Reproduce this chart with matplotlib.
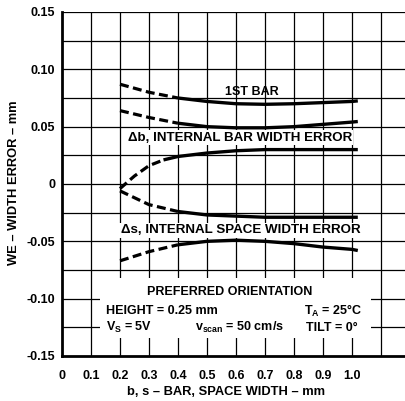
import numpy as np
import matplotlib.pyplot as plt
from matplotlib.patches import Rectangle

plt.rcParams['font.family'] = ['Liberation Sans', 'DejaVu Sans']

# data
x = [0.2, 0.3, 0.4, 0.5, 0.6, 0.7, 0.8, 0.9, 1.0, 1.02]
first_bar = [0.087, 0.080, 0.075, 0.072, 0.070, 0.0695, 0.070, 0.071, 0.072, 0.0725]
db_upper = [0.064, 0.058, 0.053, 0.050, 0.049, 0.049, 0.050, 0.052, 0.054, 0.0545]
x_db = [0.2, 0.25, 0.3, 0.35, 0.4, 0.5, 0.6, 0.7, 0.8, 0.9, 1.0, 1.02]
db_lower = [-0.004, 0.007, 0.016, 0.021, 0.024, 0.027, 0.029, 0.030, 0.030, 0.030, 0.030, 0.030]
ds_upper = [-0.006, -0.018, -0.024, -0.027, -0.028, -0.029, -0.029, -0.029, -0.029, -0.029]
ds_lower = [-0.067, -0.059, -0.053, -0.050, -0.049, -0.050, -0.052, -0.055, -0.057, -0.058]

xticks = [0, 0.1, 0.2, 0.3, 0.4, 0.5, 0.6, 0.7, 0.8, 0.9, 1.0]
xticklabels = ["0", "0.1", "0.2", "0.3", "0.4", "0.5", "0.6", "0.7", "0.8", "0.9", "1.0"]
yticks = [0.15, 0.10, 0.05, 0, -0.05, -0.10, -0.15]
yticklabels = ["0.15", "0.10", "0.05", "0", "-0.05", "-0.10", "-0.15"]

fig = plt.figure(figsize=(4.06, 4.01), dpi=100)
ax = fig.add_axes([62 / 406, 1 - 356 / 401, 1 - 62 / 406, 344 / 401])
ax.set_xlim(0, 344 / 290)
ax.set_ylim(-0.15, 0.15)

# grid
for gx in np.arange(0.1, 1.15, 0.1):
    ax.axvline(gx, color='black', lw=0.9, zorder=1)
for gy in np.arange(-0.125, 0.16, 0.025):
    ax.axhline(gy, color='black', lw=0.9, zorder=1)

# white area behind the conditions text
ax.add_patch(Rectangle((0.131, -0.134), 1.065 - 0.131, 0.052, facecolor='white',
                       edgecolor='none', zorder=2))


def split_curve(xs, ys, xbreak):
    xs = np.asarray(xs)
    ys = np.asarray(ys)
    dash = xs <= xbreak
    solid = xs >= xbreak
    ax.plot(xs[dash], ys[dash], color='black', lw=2.3, ls=(0, (2.8, 1.4)), zorder=4)
    ax.plot(xs[solid], ys[solid], color='black', lw=2.4, zorder=4,
            solid_capstyle='butt')


split_curve(x, first_bar, 0.4)
split_curve(x, db_upper, 0.4)
split_curve(x_db, db_lower, 0.35)
split_curve(x, ds_upper, 0.4)
split_curve(x, ds_lower, 0.4)

txt = dict(fontsize=9, fontweight='bold', color='black', zorder=5)
big = dict(txt, fontsize=9.6)
box = dict(facecolor='white', edgecolor='none', pad=1.0)
ax.text(0.655, 0.080, "1ST BAR", ha='center', va='center', **txt)
ax.text(0.227, 0.0405, "\u0394b, INTERNAL BAR WIDTH ERROR", ha='left', va='center',
        bbox=box, **big)
ax.text(0.202, -0.0405, "\u0394s, INTERNAL SPACE WIDTH ERROR", ha='left', va='center',
        bbox=box, **big)
ax.text(0.579, -0.094, "PREFERRED ORIENTATION", ha='center', va='center', **txt)
ax.text(0.152, -0.111, "HEIGHT = 0.25 mm", ha='left', va='center', **txt)
ax.text(1.034, -0.111, "T$_\\mathregular{A}$ = 25\u00b0C", ha='right', va='center', **txt)
ax.text(0.152, -0.1255, "V$_\\mathregular{S}$ = 5V", ha='left', va='center', **txt)
ax.text(0.46, -0.1255, "v$_\\mathregular{scan}$ = 50 cm/s", ha='left', va='center', **txt)
ax.text(1.02, -0.1255, "TILT = 0\u00b0", ha='right', va='center', bbox=box, **txt)

ax.set_xticks(xticks)
ax.set_xticklabels(xticklabels, fontsize=9, fontweight='bold')
ax.set_yticks(yticks)
ax.set_yticklabels(yticklabels, fontsize=9, fontweight='bold')
ax.tick_params(axis='x', length=0, pad=10)
ax.tick_params(axis='y', length=0, pad=5)

for s in ['top', 'right']:
    ax.spines[s].set_visible(False)
ax.spines['left'].set_linewidth(2)
ax.spines['bottom'].set_linewidth(2)

ax.set_xlabel("b, s \u2013 BAR, SPACE WIDTH \u2013 mm", fontsize=9.3, fontweight='bold')
ax.set_ylabel("WE \u2013 WIDTH ERROR \u2013 mm", fontsize=9.3, fontweight='bold')
ax.xaxis.set_label_coords(0.477, -0.088)
ax.yaxis.set_label_coords(-0.122, 0.505)

fig.savefig("out.png", dpi=100)
